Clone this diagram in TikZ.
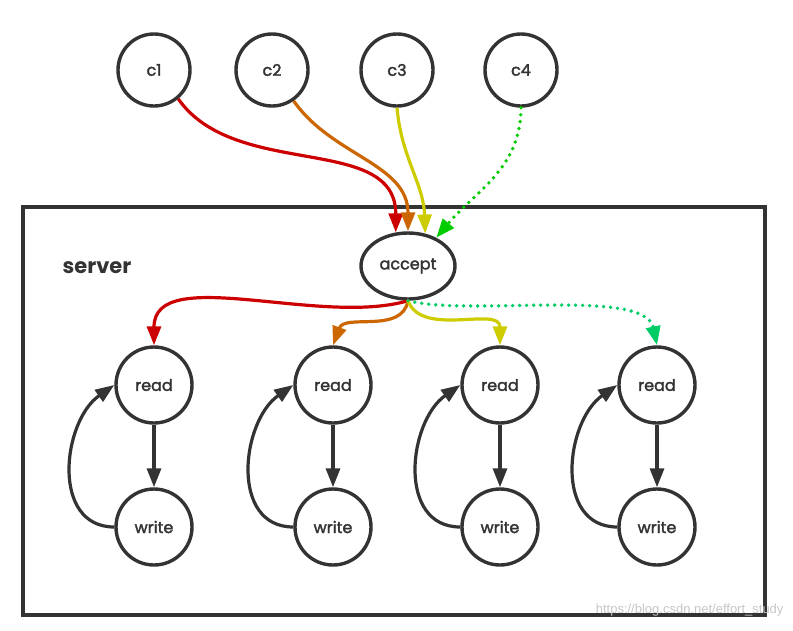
\documentclass[tikz,border=0pt]{standalone}
\usepackage{fontspec}
\setmainfont{Poppins}
\setsansfont{Liberation Sans}
\newfontfamily\labelfont[FakeBold=2]{Poppins}
\usetikzlibrary{arrows.meta,shapes.geometric}
\definecolor{ink}{HTML}{333333}
\definecolor{cred}{HTML}{CC0000}
\definecolor{corange}{HTML}{CC6600}
\definecolor{cyellow}{HTML}{CCCC00}
\definecolor{cgreen}{HTML}{00CC00}
\definecolor{cmint}{HTML}{00CC66}
\begin{document}
\begin{tikzpicture}[x=1pt, y=1pt,
    client/.style ={circle, draw=ink, line width=3.4pt, minimum size=72pt, inner sep=0pt, text=ink, font=\labelfont\fontsize{16}{19}\selectfont},
    handler/.style ={circle, draw=ink, line width=3.4pt, minimum size=76pt, inner sep=0pt, text=ink, font=\labelfont\fontsize{16}{19}\selectfont},
    acceptor/.style ={ellipse, draw=ink, line width=3.4pt, minimum width=94pt, minimum height=66pt, inner sep=0pt, text=ink, font=\labelfont\fontsize{16}{19}\selectfont},
    flow/.style ={line width=3.2pt, -{Triangle[length=19pt, width=14pt]}},
    pending/.style ={dash pattern=on 0pt off 7pt, line width=3.8pt, line cap=round}]
   \useasboundingbox (0,0) rectangle (793,-630);
   % server box
   \draw[ink, line width=3.4pt] (23,-207) rectangle (765,-615);
   \node[text=ink, font=\fontsize{21}{25}\selectfont\bfseries] (title) at (97,-268) {server};
   \node[text=gray!45, font=\fontsize{13}{15}\selectfont\sffamily, anchor=east] (mark) at (787,-610) {https://blog.csdn.net/effort\_study};
   % clients
   \node[client] (c1) at (154,-70) {c1};
   \node[client] (c2) at (272,-70) {c2};
   \node[client] (c3) at (397,-70) {c3};
   \node[client] (c4) at (521,-70) {c4};
   \node[acceptor] (acc) at (408,-266) {accept};
   % read / write pairs
   \node[handler] (r1) at (154,-385) {read};
   \node[handler] (w1) at (154,-527) {write};
   \node[handler] (r2) at (333,-385) {read};
   \node[handler] (w2) at (333,-527) {write};
   \node[handler] (r3) at (500,-385) {read};
   \node[handler] (w3) at (500,-527) {write};
   \node[handler] (r4) at (657,-385) {read};
   \node[handler] (w4) at (657,-527) {write};
   % connections
   \draw[flow, cred] (c1.-50) to [out=-55, in=90] (acc.110);
   \draw[flow, corange] (c2.-55) to [out=-55, in=90] (acc.90);
   \draw[flow, cyellow] (c3.south) to [out=-85, in=92] (acc.62);
   \draw[flow, cgreen, pending] (c4.south) to [out=-90, in=50] (acc.45);
   \draw[flow, cred] (acc.south) .. controls +(-88,-26) and +(0,82) .. (r1.north);
   \draw[flow, corange] (acc.south) to [out=-100, in=70] (r2.north);
   \draw[flow, cyellow] (acc.south) to [out=-70, in=90] (r3.north);
   \draw[flow, cmint, pending] (acc.south) .. controls +(62,-16) and +(-12,58) .. (r4.north);
   \draw[flow, ink] (r1) to (w1);
   \draw[flow, ink] (r2) to (w2);
   \draw[flow, ink] (r3) to (w3);
   \draw[flow, ink] (r4) to (w4);
   \draw[flow, ink] (w1.west) to [out=180, in=215, looseness=1.15] (r1.west);
   \draw[flow, ink] (w2.west) to [out=180, in=215, looseness=1.15] (r2.west);
   \draw[flow, ink] (w3.west) to [out=180, in=215, looseness=1.15] (r3.west);
   \draw[flow, ink] (w4.west) to [out=180, in=215, looseness=1.15] (r4.west);
\end{tikzpicture}
\end{document}
